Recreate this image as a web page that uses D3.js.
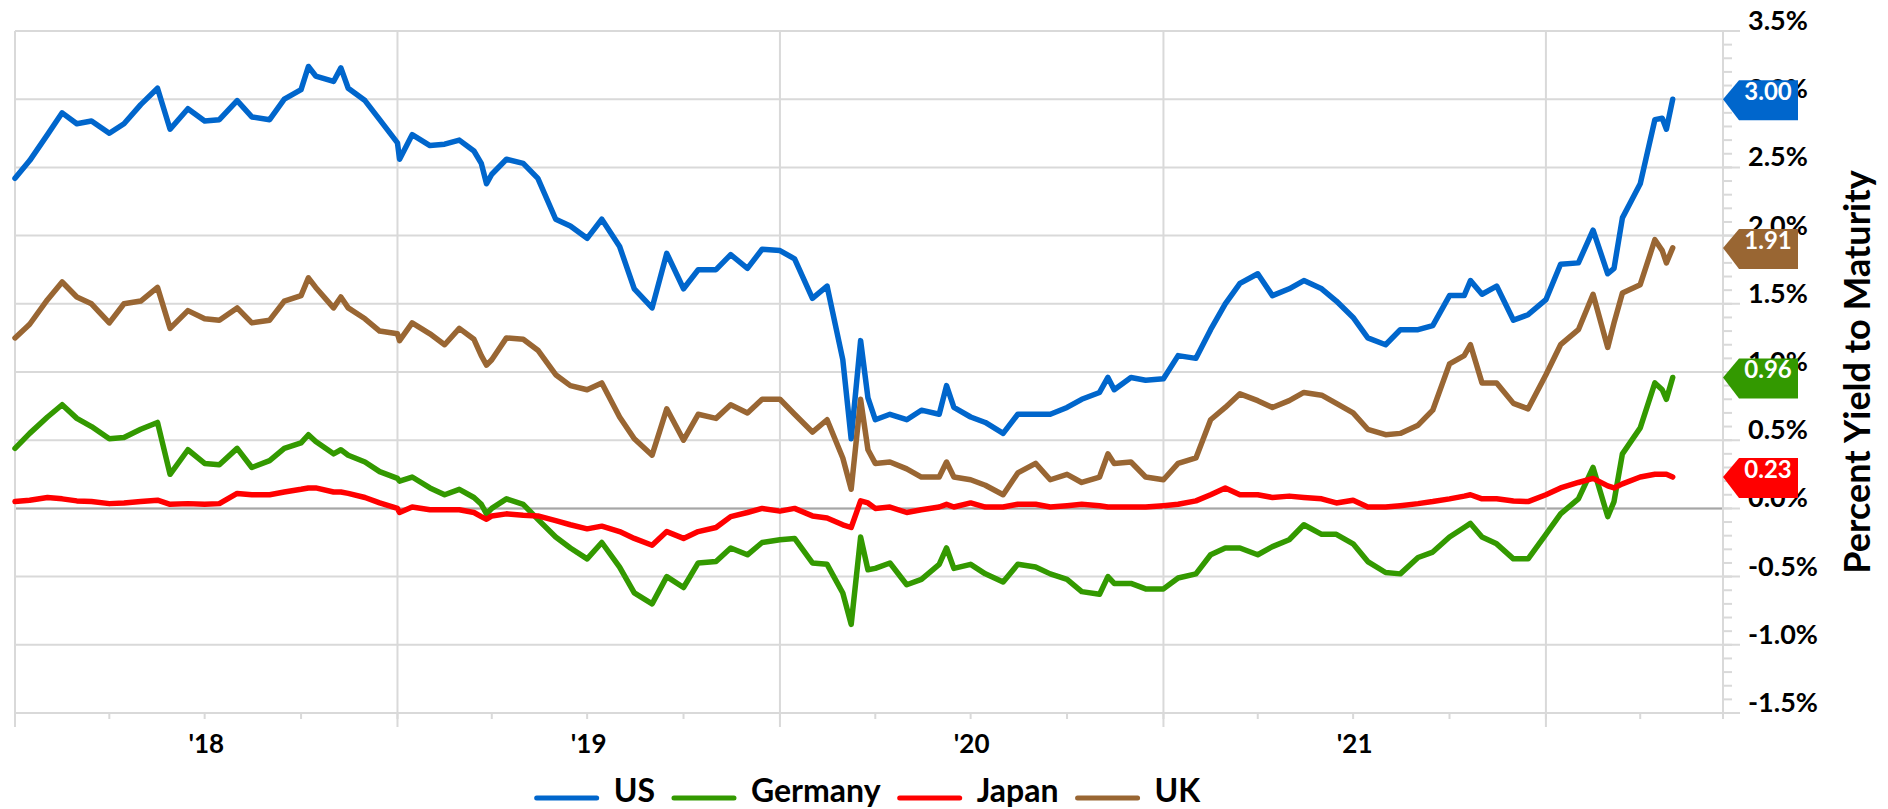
<!DOCTYPE html>
<html>
<head>
<meta charset="utf-8">
<script src="https://cdn.jsdelivr.net/npm/d3@7"></script>
<style>
  body { margin: 0; background: #fff; }
  svg { display: block; font-family: Lato, 'Open Sans', sans-serif; font-weight: bold; }
</style>
</head>
<body>
<svg id="chart"></svg>
<script>
// 10-year government bond yields, %
const dates = [
  '2018-01-01','2018-01-15','2018-02-01','2018-02-15','2018-03-01','2018-03-15','2018-04-01','2018-04-15',
  '2018-05-01','2018-05-17','2018-05-29','2018-06-15','2018-07-01','2018-07-15','2018-08-01','2018-08-15',
  '2018-09-01','2018-09-15','2018-10-01','2018-10-08','2018-10-15','2018-11-01','2018-11-08','2018-11-15',
  '2018-12-01','2018-12-15','2019-01-01','2019-01-03','2019-01-15','2019-02-01','2019-02-15',
  '2019-03-01','2019-03-15','2019-03-22','2019-03-27','2019-04-01','2019-04-15','2019-05-01','2019-05-15',
  '2019-06-01','2019-06-15','2019-07-01','2019-07-15','2019-08-01','2019-08-15','2019-09-01','2019-09-15',
  '2019-10-01','2019-10-15','2019-11-01','2019-11-15','2019-12-01','2019-12-15','2020-01-01','2020-01-15',
  '2020-02-01','2020-02-15','2020-03-01','2020-03-09','2020-03-18','2020-03-25',
  '2020-04-01','2020-04-15','2020-05-01','2020-05-15','2020-06-01','2020-06-08','2020-06-15','2020-07-01',
  '2020-07-15','2020-08-01','2020-08-15','2020-09-01','2020-09-15','2020-10-01','2020-10-15','2020-11-01',
  '2020-11-09','2020-11-15','2020-12-01','2020-12-15','2021-01-01','2021-01-15','2021-02-01','2021-02-15',
  '2021-03-01','2021-03-15','2021-04-01','2021-04-15','2021-05-01',
  '2021-05-15','2021-06-01','2021-06-15','2021-07-01','2021-07-15','2021-08-01','2021-08-15','2021-09-01',
  '2021-09-15','2021-10-01','2021-10-15','2021-10-21','2021-11-01','2021-11-15','2021-12-01','2021-12-15',
  '2022-01-01','2022-01-15','2022-02-01','2022-02-15','2022-03-01','2022-03-07','2022-03-15','2022-04-01',
  '2022-04-15','2022-04-22','2022-04-26','2022-05-02'
];

const usYield = [
  2.42, 2.55, 2.74, 2.90, 2.82, 2.84, 2.75, 2.82, 2.96, 3.08, 2.78, 2.93, 2.84, 2.85, 2.99, 2.87,
  2.85, 3.00, 3.07, 3.24, 3.17, 3.13, 3.23, 3.08, 2.99, 2.85, 2.68, 2.56, 2.74, 2.66, 2.67,
  2.70, 2.62, 2.53, 2.38, 2.45, 2.56, 2.53, 2.42, 2.12, 2.07, 1.98, 2.12, 1.92, 1.61, 1.47, 1.87,
  1.61, 1.75, 1.75, 1.86, 1.76, 1.90, 1.89, 1.83, 1.54, 1.63, 1.09, 0.51, 1.23, 0.81,
  0.65, 0.69, 0.65, 0.72, 0.69, 0.90, 0.74, 0.67, 0.63, 0.55, 0.69, 0.69, 0.69, 0.74, 0.80, 0.85,
  0.96, 0.87, 0.96, 0.94, 0.95, 1.12, 1.10, 1.31, 1.50, 1.65, 1.72, 1.56, 1.61,
  1.67, 1.61, 1.52, 1.40, 1.25, 1.20, 1.31, 1.31, 1.34, 1.56, 1.56, 1.67, 1.57, 1.63, 1.38, 1.42,
  1.53, 1.79, 1.80, 2.04, 1.72, 1.76, 2.13, 2.38, 2.85, 2.86, 2.78, 3.00
];

const germanyYield = [
  0.44, 0.55, 0.67, 0.76, 0.66, 0.60, 0.51, 0.52, 0.58, 0.63, 0.25, 0.43, 0.33, 0.32, 0.44, 0.30,
  0.35, 0.44, 0.48, 0.54, 0.49, 0.40, 0.43, 0.39, 0.34, 0.27, 0.22, 0.20, 0.23, 0.15, 0.10,
  0.14, 0.08, 0.03, -0.04, 0.00, 0.07, 0.03, -0.08, -0.21, -0.29, -0.37, -0.25, -0.43, -0.62, -0.70, -0.50,
  -0.58, -0.40, -0.39, -0.29, -0.34, -0.25, -0.23, -0.22, -0.40, -0.41, -0.62, -0.85, -0.21, -0.45,
  -0.44, -0.40, -0.56, -0.52, -0.41, -0.29, -0.44, -0.41, -0.48, -0.54, -0.41, -0.43, -0.48, -0.52, -0.61, -0.63,
  -0.50, -0.55, -0.55, -0.59, -0.59, -0.51, -0.48, -0.34, -0.29, -0.29, -0.34, -0.28, -0.23,
  -0.12, -0.19, -0.19, -0.26, -0.39, -0.47, -0.48, -0.36, -0.32, -0.21, -0.14, -0.11, -0.21, -0.26, -0.37, -0.37,
  -0.19, -0.04, 0.07, 0.30, -0.06, 0.05, 0.40, 0.59, 0.92, 0.87, 0.80, 0.96
];

const japanYield = [
  0.05, 0.06, 0.08, 0.07, 0.055, 0.05, 0.035, 0.04, 0.05, 0.06, 0.03, 0.035, 0.03, 0.035, 0.11, 0.10,
  0.10, 0.12, 0.14, 0.15, 0.15, 0.12, 0.12, 0.11, 0.08, 0.04, 0.00, -0.03, 0.01, -0.01, -0.01,
  -0.01, -0.03, -0.06, -0.08, -0.055, -0.04, -0.05, -0.055, -0.09, -0.12, -0.15, -0.13, -0.17, -0.22, -0.27, -0.17,
  -0.22, -0.17, -0.14, -0.06, -0.03, 0.00, -0.02, 0.00, -0.055, -0.07, -0.12, -0.14, 0.055, 0.04,
  0.00, 0.01, -0.03, -0.01, 0.01, 0.03, 0.01, 0.04, 0.01, 0.01, 0.03, 0.03, 0.01, 0.02, 0.03, 0.02,
  0.01, 0.01, 0.01, 0.01, 0.02, 0.03, 0.055, 0.10, 0.15, 0.10, 0.10, 0.08, 0.09,
  0.08, 0.07, 0.04, 0.06, 0.01, 0.01, 0.02, 0.035, 0.05, 0.07, 0.09, 0.10, 0.07, 0.07, 0.055, 0.05,
  0.10, 0.15, 0.19, 0.22, 0.165, 0.15, 0.18, 0.23, 0.25, 0.25, 0.25, 0.23
];

const ukYield = [
  1.25, 1.35, 1.53, 1.66, 1.55, 1.50, 1.36, 1.50, 1.52, 1.62, 1.32, 1.45, 1.39, 1.38, 1.47, 1.36,
  1.38, 1.52, 1.56, 1.69, 1.62, 1.47, 1.55, 1.47, 1.39, 1.30, 1.28, 1.23, 1.36, 1.28, 1.20,
  1.32, 1.24, 1.12, 1.05, 1.09, 1.25, 1.24, 1.16, 0.98, 0.90, 0.87, 0.92, 0.67, 0.51, 0.39, 0.73,
  0.50, 0.69, 0.66, 0.76, 0.70, 0.80, 0.80, 0.69, 0.56, 0.65, 0.37, 0.14, 0.80, 0.43,
  0.33, 0.34, 0.29, 0.23, 0.23, 0.34, 0.23, 0.21, 0.17, 0.10, 0.26, 0.33, 0.21, 0.25, 0.19, 0.23,
  0.40, 0.33, 0.34, 0.23, 0.21, 0.33, 0.37, 0.65, 0.74, 0.84, 0.79, 0.74, 0.79,
  0.85, 0.83, 0.77, 0.70, 0.58, 0.54, 0.55, 0.61, 0.72, 1.06, 1.12, 1.20, 0.92, 0.92, 0.77, 0.73,
  0.98, 1.20, 1.31, 1.57, 1.18, 1.36, 1.58, 1.64, 1.97, 1.89, 1.80, 1.91
];

const seriesNames = ['US', 'Germany', 'Japan', 'UK'];
const seriesColors = ['#0066CC', '#339900', '#FF0000', '#996633'];
const yTicks = [-1.5, -1.0, -0.5, 0.0, 0.5, 1.0, 1.5, 2.0, 2.5, 3.0, 3.5];
const yearLabels = ["'18", "'19", "'20", "'21"];
const labelYears = [2018, 2019, 2020, 2021];

const W = 1888, H = 809;
const plotLeft = 15, plotRight = 1723, plotTop = 31, plotBottom = 713;
const gridColor = '#D9D9D9';

const parseDate = d3.timeParse('%Y-%m-%d');
const xDates = dates.map(parseDate);
const startDate = new Date(2018, 0, 1);
const endDate = new Date(2022, 5, 19);

const svg = d3.select('#chart')
  .attr('width', W)
  .attr('height', H)
  .attr('viewBox', `0 0 ${W} ${H}`);

svg.append('rect').attr('width', W).attr('height', H).attr('fill', '#fff');

const x = d3.scaleTime().domain([startDate, endDate]).range([plotLeft, plotRight]);
const y = d3.scaleLinear().domain([-1.5, 3.5]).range([plotBottom, plotTop]);

// horizontal gridlines, running a bit past the right axis
svg.append('g')
  .selectAll('line')
  .data(yTicks)
  .enter().append('line')
    .attr('x1', plotLeft)
    .attr('x2', plotRight + 17)
    .attr('y1', d => y(d))
    .attr('y2', d => y(d))
    .attr('stroke', gridColor)
    .attr('stroke-width', 2);

// zero line
svg.append('line')
  .attr('x1', plotLeft).attr('x2', plotRight)
  .attr('y1', y(0)).attr('y2', y(0))
  .attr('stroke', '#A6A6A6')
  .attr('stroke-width', 2);

// minor ticks on right axis
const minorTicks = d3.range(-15, 36).map(d => d / 10);
svg.append('g')
  .selectAll('line')
  .data(minorTicks)
  .enter().append('line')
    .attr('x1', plotRight)
    .attr('x2', plotRight + 9)
    .attr('y1', d => y(d))
    .attr('y2', d => y(d))
    .attr('stroke', gridColor)
    .attr('stroke-width', 2);

// right axis line
svg.append('line')
  .attr('x1', plotRight).attr('x2', plotRight)
  .attr('y1', plotTop).attr('y2', plotBottom + 6)
  .attr('stroke', gridColor)
  .attr('stroke-width', 2);

// vertical year gridlines and ticks
const yearStarts = d3.timeYear.range(startDate, endDate);
svg.append('g')
  .selectAll('line')
  .data(yearStarts)
  .enter().append('line')
    .attr('x1', d => x(d))
    .attr('x2', d => x(d))
    .attr('y1', plotTop)
    .attr('y2', plotBottom + 14)
    .attr('stroke', gridColor)
    .attr('stroke-width', 2);

// quarter ticks
const quarters = d3.timeMonth.every(3).range(startDate, endDate);
svg.append('g')
  .selectAll('line')
  .data(quarters)
  .enter().append('line')
    .attr('x1', d => x(d))
    .attr('x2', d => x(d))
    .attr('y1', plotBottom)
    .attr('y2', plotBottom + 6)
    .attr('stroke', gridColor)
    .attr('stroke-width', 2);

// bottom axis line
svg.append('line')
  .attr('x1', plotLeft).attr('x2', plotRight)
  .attr('y1', plotBottom).attr('y2', plotBottom)
  .attr('stroke', gridColor)
  .attr('stroke-width', 2);

// year labels, centred in each year
svg.append('g')
  .selectAll('text')
  .data(labelYears)
  .enter().append('text')
    .attr('x', d => (x(new Date(d, 0, 1)) + x(new Date(d + 1, 0, 1))) / 2)
    .attr('y', 753)
    .attr('text-anchor', 'middle')
    .attr('font-size', 26)
    .attr('fill', '#000')
    .text((d, i) => yearLabels[i]);

// right axis labels
svg.append('g')
  .selectAll('text')
  .data(yTicks)
  .enter().append('text')
    .attr('x', 1748)
    .attr('y', d => y(d) - 1)
    .attr('font-size', 27)
    .attr('fill', '#000')
    .text(d => `${d.toFixed(1)}%`);

// axis title
svg.append('text')
  .attr('transform', 'translate(1870, 372) rotate(-90)')
  .attr('text-anchor', 'middle')
  .attr('font-size', 36)
  .attr('fill', '#000')
  .text('Percent Yield to Maturity');

// lines
const allSeries = [usYield, germanyYield, japanYield, ukYield];
const line = d3.line()
  .x((d, i) => x(xDates[i]))
  .y(d => y(d));

svg.append('g')
  .selectAll('path')
  .data(allSeries)
  .enter().append('path')
    .attr('d', d => line(d))
    .attr('fill', 'none')
    .attr('stroke', (d, i) => seriesColors[i])
    .attr('stroke-width', 5.5)
    .attr('stroke-linejoin', 'round')
    .attr('stroke-linecap', 'round');

// end-value flags on the right axis (they cover the tick labels, as in the original)
const flags = svg.append('g')
  .selectAll('g')
  .data(allSeries)
  .enter().append('g');

flags.append('path')
  .attr('d', d => {
    const v = y(d[d.length - 1]);
    return `M${plotRight},${v} L${plotRight + 16},${v - 19} L1798,${v - 19} L1798,${v + 21} L${plotRight + 16},${v + 21} Z`;
  })
  .attr('fill', (d, i) => seriesColors[i]);

flags.append('text')
  .attr('x', 1768)
  .attr('y', d => y(d[d.length - 1]) + 1)
  .attr('text-anchor', 'middle')
  .attr('font-size', 24)
  .attr('fill', '#fff')
  .text(d => d[d.length - 1].toFixed(2));

// legend, centred under the plot
const legend = svg.append('g');
let lx = 0;
const legendItems = legend.selectAll('g')
  .data(seriesNames)
  .enter().append('g');

legendItems.append('line')
  .attr('x1', 0).attr('x2', 60)
  .attr('y1', 798).attr('y2', 798)
  .attr('stroke', (d, i) => seriesColors[i])
  .attr('stroke-width', 5)
  .attr('stroke-linecap', 'round');

legendItems.append('text')
  .attr('x', 77)
  .attr('y', 802)
  .attr('font-size', 32)
  .attr('fill', '#000')
  .text(d => d);

legendItems.each(function () {
  const w = this.getBBox().width;
  d3.select(this).attr('transform', `translate(${lx},0)`);
  lx += w + 19;
});
lx -= 19;
legend.attr('transform', `translate(${(plotLeft + plotRight) / 2 - lx / 2},0)`);
</script>
</body>
</html>
